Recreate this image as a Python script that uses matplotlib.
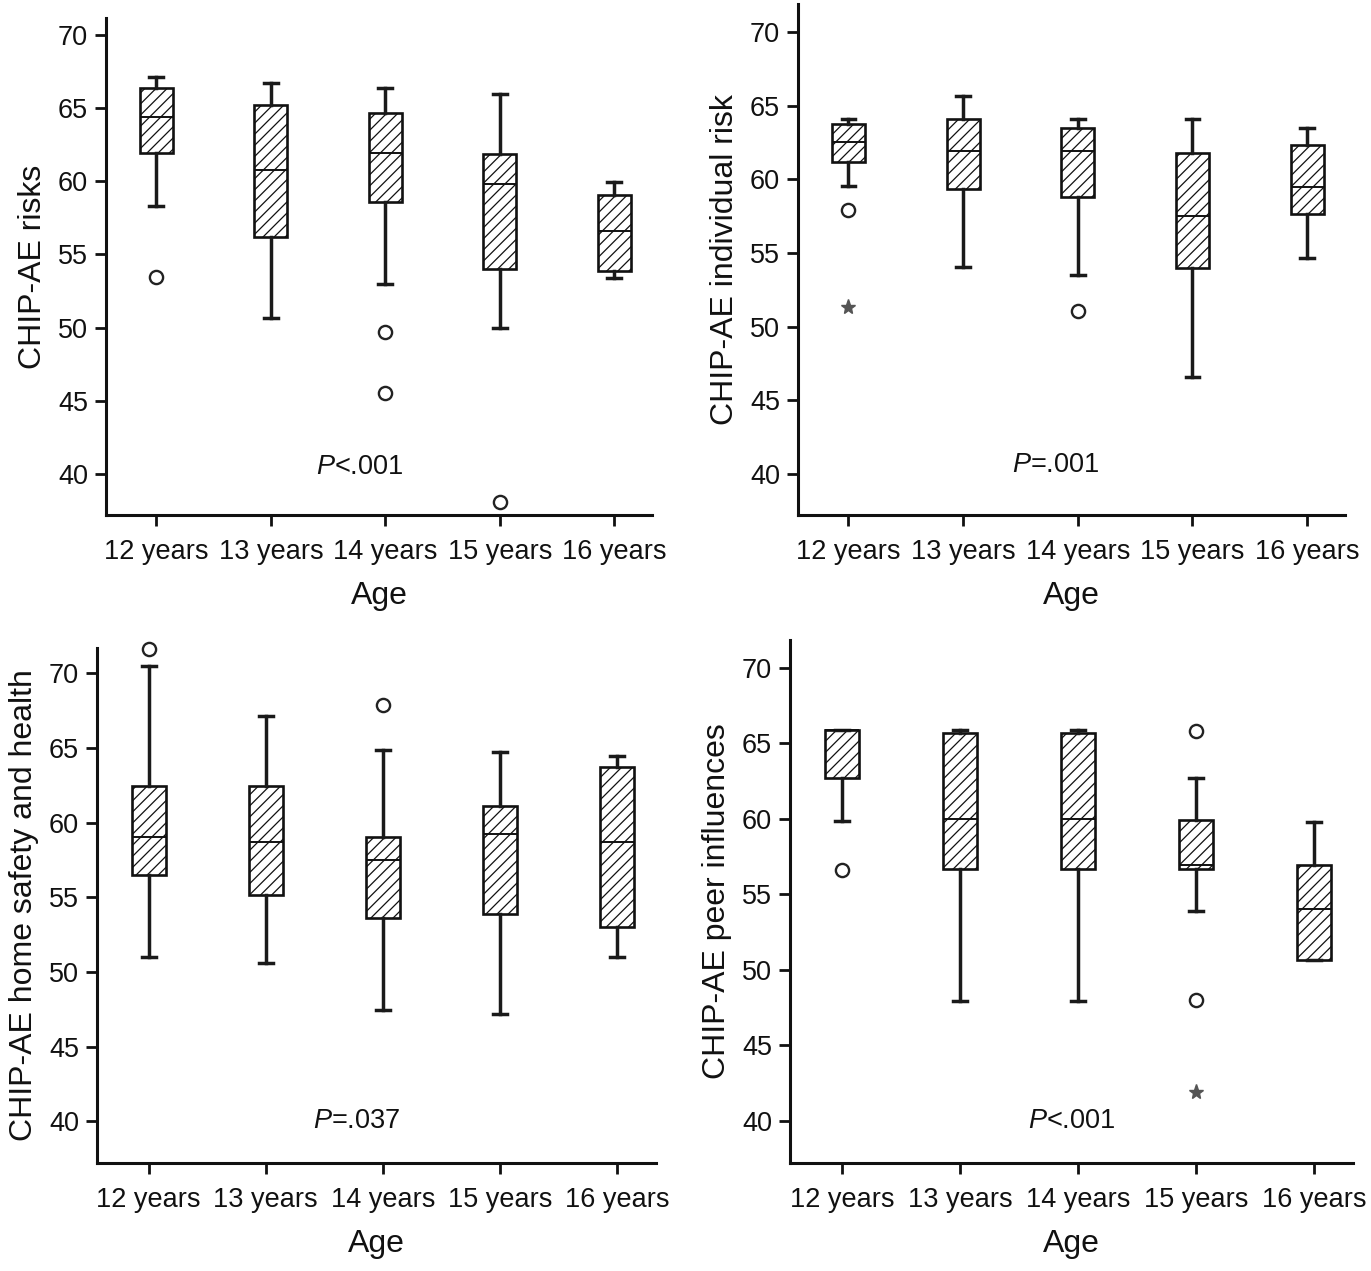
import matplotlib
matplotlib.use("Agg")
import matplotlib.pyplot as plt

plt.rcParams['font.family'] = ['Liberation Sans', 'DejaVu Sans']
plt.rcParams['mathtext.fontset'] = 'custom'
plt.rcParams['mathtext.rm'] = 'Liberation Sans'
plt.rcParams['mathtext.it'] = 'Liberation Sans:italic'
plt.rcParams['hatch.linewidth'] = 0.9
plt.rcParams['hatch.color'] = '#444444'

# ---------------- data ----------------
ages = ["12 years", "13 years", "14 years", "15 years", "16 years"]
yticks = [40, 45, 50, 55, 60, 65, 70]

# Panel A: CHIP-AE risks
risk_lo = [58.28, 50.67, 53.0, 50.0, 53.36]
risk_q1 = [61.96, 56.19, 58.6, 53.98, 53.86]
risk_med = [64.4, 60.79, 61.9, 59.8, 56.6]
risk_q3 = [66.37, 65.23, 64.66, 61.87, 59.05]
risk_hi = [67.1, 66.7, 66.4, 65.93, 59.92]
risk_out = [[53.48], [], [49.7, 45.5], [38.1], []]
risk_ext = [[], [], [], [], []]

# Panel B: CHIP-AE individual risk
ind_lo = [59.54, 54.07, 53.48, 46.55, 54.66]
ind_q1 = [61.16, 59.35, 58.79, 53.96, 57.63]
ind_med = [62.51, 61.89, 61.89, 57.49, 59.49]
ind_q3 = [63.72, 64.12, 63.5, 61.81, 62.35]
ind_hi = [64.12, 65.63, 64.12, 64.12, 63.48]
ind_out = [[57.92], [], [51.05], [], []]
ind_ext = [[51.32], [], [], [], []]

# Panel C: CHIP-AE home safety and health
home_lo = [51.01, 50.58, 47.45, 47.18, 51.01]
home_q1 = [56.47, 55.12, 53.62, 53.89, 52.99]
home_med = [59.04, 58.71, 57.51, 59.23, 58.71]
home_q3 = [62.44, 62.44, 59.07, 61.12, 63.75]
home_hi = [70.52, 67.15, 64.9, 64.74, 64.44]
home_out = [[71.62], [], [67.86], [], []]
home_ext = [[], [], [], [], []]

# Panel D: CHIP-AE peer influences
peer_lo = [59.83, 47.91, 47.91, 53.87, 50.63]
peer_q1 = [62.74, 56.67, 56.67, 56.67, 50.63]
peer_med = [65.87, 59.99, 59.99, 56.94, 54.06]
peer_q3 = [65.87, 65.68, 65.68, 59.94, 56.92]
peer_hi = [65.87, 65.87, 65.87, 62.74, 59.78]
peer_out = [[56.59], [], [], [65.82, 48.01], []]
peer_ext = [[], [], [], [41.92], []]

ylabels = ["CHIP-AE risks", "CHIP-AE individual risk",
           "CHIP-AE home safety and health", "CHIP-AE peer influences"]
ptexts = [r"$\mathit{P}$<.001", r"$\mathit{P}$=.001",
          r"$\mathit{P}$=.037", r"$\mathit{P}$<.001"]

# ---------------- layout ----------------
W, H = 1371, 1271
fig = plt.figure(figsize=(W / 100, H / 100), dpi=100)
fig.patch.set_facecolor('white')


def rect(l, t, r, b):
    return [l / W, 1 - b / H, (r - l) / W, (b - t) / H]


panels = [
    dict(box=(106, 18, 652, 515), ytop=71.15,
         data=(risk_lo, risk_q1, risk_med, risk_q3, risk_hi, risk_out, risk_ext),
         ptxt=(2.78, 40.5)),
    dict(box=(798, 4, 1345, 515), ytop=71.9,
         data=(ind_lo, ind_q1, ind_med, ind_q3, ind_hi, ind_out, ind_ext),
         ptxt=(2.81, 40.6)),
    dict(box=(97, 648, 656, 1163), ytop=71.7,
         data=(home_lo, home_q1, home_med, home_q3, home_hi, home_out, home_ext),
         ptxt=(2.78, 40.0)),
    dict(box=(790, 640, 1353, 1163), ytop=71.85,
         data=(peer_lo, peer_q1, peer_med, peer_q3, peer_hi, peer_out, peer_ext),
         ptxt=(2.95, 40.0)),
]

positions = list(range(1, len(ages) + 1))

for i, p in enumerate(panels):
    ax = fig.add_axes(rect(*p['box']))
    lo, q1, med, q3, hi, outs, exts = p['data']
    stats = []
    for j in range(len(ages)):
        stats.append(dict(whislo=lo[j], q1=q1[j], med=med[j], q3=q3[j],
                          whishi=hi[j], fliers=outs[j]))
    art = ax.bxp(stats, positions=positions, widths=0.29, capwidths=0.12,
                 patch_artist=True, showfliers=True,
                 boxprops=dict(facecolor='white', edgecolor='#111111',
                               linewidth=1.9, hatch='///'),
                 medianprops=dict(color='#111111', linewidth=1.4),
                 whiskerprops=dict(color='#1a1a1a', linewidth=2.5),
                 capprops=dict(color='#1a1a1a', linewidth=2.5),
                 flierprops=dict(marker='o', markerfacecolor='white',
                                 markeredgecolor='#222222', markersize=9.5,
                                 markeredgewidth=1.7, linestyle='none'))
    for fl in art['fliers']:
        fl.set_clip_on(False)
    for j in range(len(ages)):
        if exts[j]:
            ax.plot([positions[j]] * len(exts[j]), exts[j], linestyle='none',
                    marker='*', color='#555555', markersize=11)

    ax.set_xlim(0.56, 5.33)
    ax.set_ylim(37.2, p['ytop'])
    ax.set_yticks(yticks)
    ax.set_xticks(positions)
    ax.set_xticklabels(ages)
    for s in ['top', 'right']:
        ax.spines[s].set_visible(False)
    for s in ['left', 'bottom']:
        ax.spines[s].set_linewidth(2.2)
        ax.spines[s].set_color('#111111')
    ax.tick_params(axis='both', direction='out', length=8, width=2.0,
                   color='#111111', labelsize=19.5, labelcolor='#111111')
    ax.tick_params(axis='y', pad=5)
    ax.tick_params(axis='x', pad=9)
    ax.set_xlabel("Age", fontsize=23, labelpad=12, color='#111111')
    ax.set_ylabel(ylabels[i], fontsize=23, labelpad=7, color='#111111')
    ax.text(p['ptxt'][0], p['ptxt'][1], ptexts[i], fontsize=19.5,
            ha='center', va='center', color='#111111')

fig.savefig("out.png", dpi=100, facecolor='white')
